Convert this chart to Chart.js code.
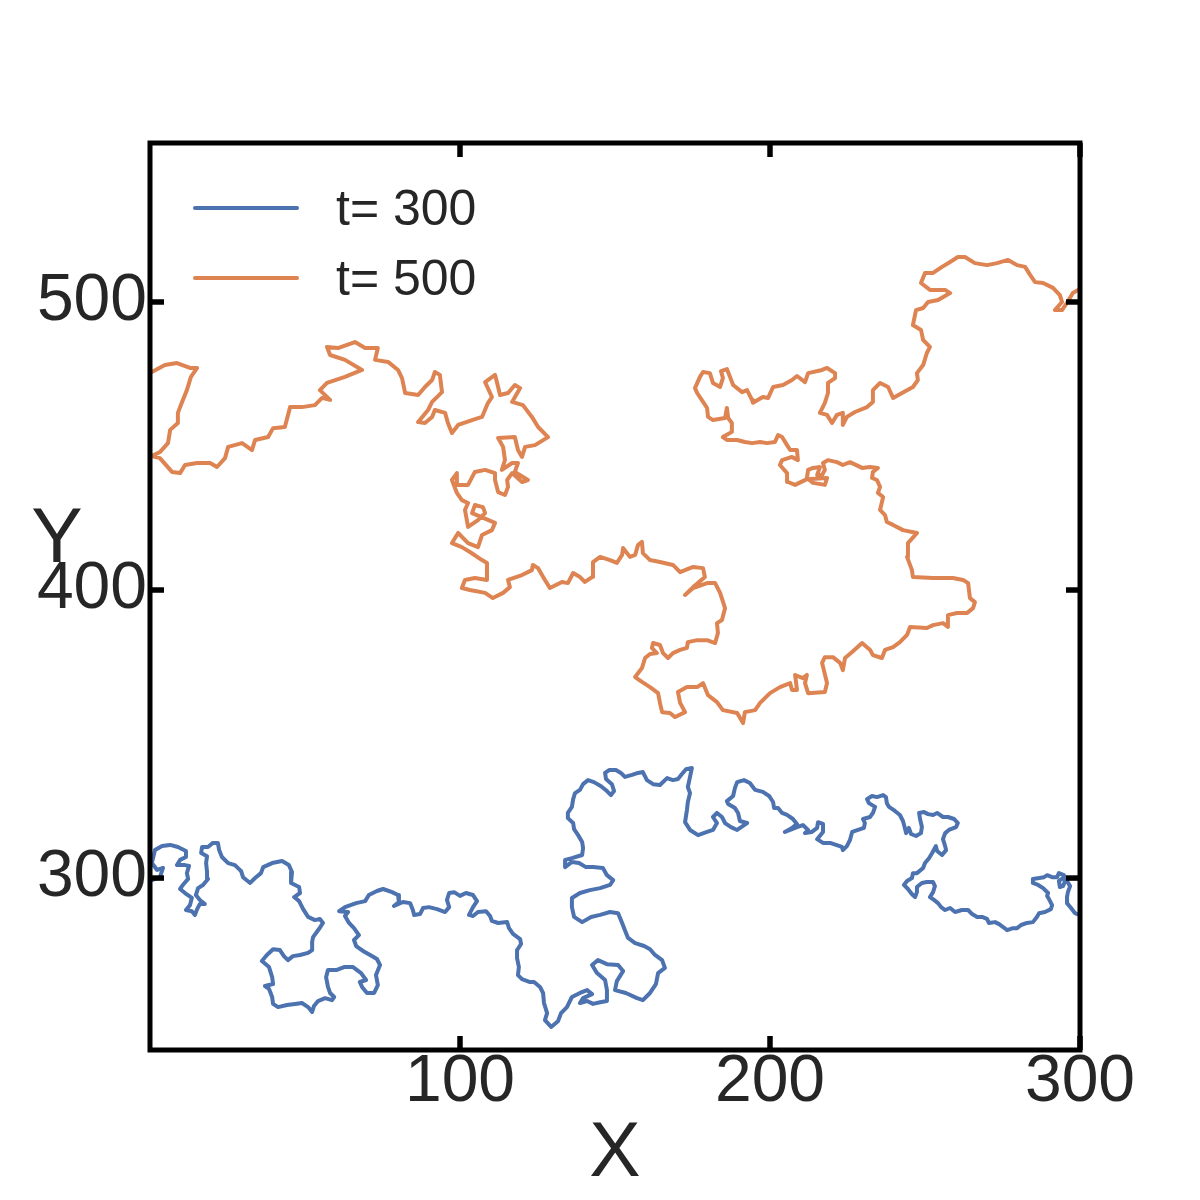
<!DOCTYPE html>
<html>
<head>
<meta charset="utf-8">
<script src="https://cdn.jsdelivr.net/npm/chart.js@4.4.1/dist/chart.umd.min.js"></script>
<style>
  html, body { margin: 0; padding: 0; background: #fff; }
  #wrap { width: 1200px; height: 1200px; }
</style>
</head>
<body>
<div id="wrap"><canvas id="chart" width="1200" height="1200"></canvas></div>
<script>
// labels and ticks
const seriesLabels = ['t= 300', 't= 500'];
const seriesColors = ['#4c72b0', '#dd8452'];
const xTicks = [100, 200, 300];
const yTicks = [300, 400, 500];
const xMin = 0, xMax = 300;
const yMin = 240.3, yMax = 555.2;

// interface at t=300
const t300X = [
  0.6,3.2,4.2,2.3,0.6,1.6,3.9,6.5,9.0,11.6,
  11.6,9.7,8.7,11.3,12.6,11.9,12.3,10.6,9.7,11.3,
  13.5,12.9,11.6,13.5,14.5,15.2,16.1,17.7,16.1,14.8,
  15.5,17.1,18.7,18.4,18.1,18.4,16.5,16.8,18.7,20.3,
  21.9,22.3,23.2,25.2,27.4,29.4,30.0,32.3,33.9,35.8,
  36.5,39.4,42.6,44.8,45.8,45.5,48.1,48.4,46.5,48.1,
  49.4,51.0,53.2,54.8,55.8,54.5,52.6,52.3,52.3,51.0,
  48.4,46.1,44.5,43.2,41.9,39.7,37.7,36.1,38.4,39.4,
  39.7,37.1,38.4,39.4,39.7,41.3,44.2,46.8,49.0,51.0,
  52.3,52.9,54.2,56.5,58.7,59.4,58.1,57.4,56.8,57.4,
  60.3,62.6,65.5,68.1,69.7,67.7,68.4,70.0,72.3,73.5,
  72.9,74.2,73.2,71.0,68.7,66.5,65.8,67.4,65.8,64.2,
  62.9,63.9,61.0,62.9,66.5,69.4,70.6,73.2,75.2,78.1,
  80.0,80.3,78.7,81.6,83.9,84.8,85.2,87.1,88.1,90.0,
  92.6,95.2,96.5,95.8,96.5,98.1,100.0,101.9,104.2,105.5,
  104.2,102.9,104.2,105.8,108.4,109.7,110.3,112.3,115.2,115.8,
  117.1,119.4,119.7,118.4,118.4,119.0,118.7,120.0,122.6,123.9,
  125.8,126.8,127.1,128.1,127.4,129.4,131.6,132.6,134.5,136.1,
  138.7,141.0,142.6,139.7,138.7,141.0,142.9,145.2,147.4,147.4,
  146.8,144.2,142.6,144.5,147.4,151.0,152.6,150.6,150.0,153.5,
  157.1,159.0,161.3,163.2,163.9,166.1,165.2,162.9,161.3,159.4,
  156.5,154.2,153.2,152.3,151.0,148.4,145.2,142.3,139.4,136.8,
  136.1,136.1,138.7,141.9,145.2,148.4,149.4,147.4,146.1,142.9,
  140.6,138.4,136.1,133.9,133.9,136.1,139.4,139.7,139.4,138.1,
  136.8,136.5,134.8,134.8,136.1,136.5,137.1,138.7,139.7,141.3,
  143.2,145.5,147.4,148.7,149.7,149.0,147.1,146.8,148.1,150.3,
  151.9,153.2,155.5,157.4,159.0,160.3,162.3,164.5,166.8,168.7,
  170.3,171.6,172.9,174.8,174.2,173.5,174.2,173.5,173.2,172.6,
  174.2,176.8,179.7,181.6,182.9,181.6,182.9,184.5,185.5,187.4,
  189.4,191.3,192.6,190.3,189.7,188.7,186.5,186.1,188.1,188.7,
  189.4,191.6,193.5,195.2,197.7,199.7,201.0,201.3,202.6,203.9,
  205.5,207.4,208.7,207.1,204.8,206.5,208.7,210.6,212.3,211.3,
  213.5,215.2,215.5,217.1,217.1,215.2,217.1,219.4,221.3,223.2,
  223.5,224.8,225.8,226.5,228.4,230.3,230.6,230.0,232.3,233.2,
  233.9,231.9,231.3,232.9,234.5,236.5,237.4,237.7,238.4,240.3,
  241.9,242.9,243.5,243.9,244.8,245.5,247.1,248.7,249.0,248.4,
  248.1,249.7,251.0,252.6,253.9,255.8,257.4,259.4,260.6,260.0,
  257.7,256.5,255.8,256.5,256.8,255.5,253.9,253.5,252.3,251.3,
  250.0,249.4,247.4,246.1,245.8,244.2,243.2,244.5,245.8,246.8,
  247.4,247.4,249.0,250.6,252.6,253.2,252.6,251.6,252.9,254.2,
  255.2,256.5,258.1,259.7,261.9,263.9,265.2,266.8,268.4,270.0,
  270.6,272.6,273.9,275.2,276.5,278.4,279.7,281.0,282.9,284.8,
  286.1,286.8,288.7,290.6,291.0,290.0,289.4,289.7,288.1,286.5,
  284.8,284.8,286.8,288.4,289.4,291.0,292.6,293.2,294.8,295.5,
  294.5,293.5,293.2,294.5,295.8,296.8,296.1,295.8,295.8,297.1,
  298.4,299.0
];
const t300Y = [
  299.3,300.3,303.5,302.8,305.2,309.7,311.1,311.5,310.8,309.4,
  307.3,306.3,304.5,304.5,304.2,301.7,299.7,297.6,296.2,294.8,
  293.1,290.6,288.9,288.5,287.2,289.2,291.0,291.0,292.4,294.1,
  296.5,297.6,299.7,302.1,305.2,307.6,308.7,310.8,310.8,312.2,
  312.2,309.7,307.3,305.2,304.5,302.4,300.3,298.3,300.0,301.7,
  303.8,305.2,305.9,304.5,302.1,298.3,296.9,294.8,293.4,292.0,
  289.2,286.5,285.4,285.8,284.4,282.3,279.5,277.8,275.0,274.0,
  273.3,272.9,271.5,272.9,275.0,275.3,273.3,271.2,269.1,265.6,
  263.2,262.5,261.5,258.7,256.3,255.2,255.9,256.3,256.6,255.2,
  253.5,255.6,257.3,258.3,257.6,258.7,260.1,262.2,265.6,268.1,
  268.1,269.1,269.1,267.0,264.6,263.9,262.2,260.1,260.1,262.8,
  266.3,269.8,271.9,273.3,274.7,276.4,278.5,280.2,282.6,284.4,
  286.8,288.2,288.5,289.9,291.3,292.0,294.1,295.5,296.2,295.1,
  294.1,291.7,290.3,291.7,291.3,288.9,287.2,287.5,289.6,289.9,
  289.2,288.2,289.9,292.4,294.8,295.1,293.8,294.8,294.1,292.0,
  289.9,287.2,286.8,288.2,288.5,286.8,285.1,284.4,284.7,282.6,
  280.6,278.8,277.1,275.0,272.2,269.1,266.3,264.9,263.9,263.9,
  262.2,260.1,256.6,253.1,250.7,248.3,250.3,253.1,255.2,258.7,
  260.1,261.1,259.7,258.3,256.6,257.3,256.3,256.9,257.3,261.1,
  264.6,267.0,269.8,271.5,270.1,269.8,267.7,264.2,261.1,260.1,
  258.3,257.6,260.1,263.2,267.0,268.8,271.5,273.3,275.3,276.4,
  277.4,279.2,281.9,284.4,287.8,288.2,287.2,286.5,284.7,286.5,
  289.9,293.1,294.8,295.8,296.5,297.6,299.3,301.0,303.5,303.8,
  303.8,305.2,305.6,303.8,306.3,306.9,308.0,310.4,312.5,314.9,
  317.0,319.1,320.8,322.6,324.7,327.4,329.5,330.6,332.6,334.0,
  333.3,331.9,330.2,328.8,330.2,332.6,334.4,336.5,337.5,337.5,
  336.5,335.1,335.8,336.5,336.8,334.0,332.6,332.3,334.7,334.0,
  334.4,336.1,337.8,338.2,335.1,331.6,329.5,326.4,323.6,319.4,
  316.7,314.9,316.0,316.7,319.1,321.2,322.6,321.2,319.1,317.7,
  316.7,318.1,319.1,319.8,322.6,324.3,325.7,326.7,328.5,331.3,
  333.3,334.0,333.0,330.6,329.9,328.5,326.4,324.3,324.3,322.6,
  321.9,320.5,318.8,317.4,316.0,316.7,317.7,318.4,316.7,315.6,
  316.0,317.4,319.4,318.8,316.0,313.5,312.2,312.2,311.5,310.8,
  309.7,311.1,313.2,316.0,316.7,317.4,319.1,320.5,321.2,322.6,
  324.7,326.0,327.4,328.5,328.1,328.8,328.1,326.0,324.7,323.3,
  321.9,319.8,317.4,315.6,317.4,315.3,314.6,315.6,317.7,320.5,
  322.6,322.9,322.2,321.9,322.6,321.2,321.2,320.5,319.1,317.7,
  316.7,315.6,313.5,311.1,309.7,308.0,309.4,311.1,308.7,306.9,
  305.2,303.5,301.7,301.7,300.0,299.0,297.6,296.2,294.4,293.4,
  295.1,296.9,298.3,298.6,298.6,297.2,295.1,293.4,292.4,291.3,
  289.9,288.9,289.6,288.2,288.9,288.9,287.5,286.5,286.5,285.8,
  284.4,284.7,284.0,283.0,281.9,282.6,282.6,283.7,284.4,284.7,
  286.5,287.8,288.2,289.2,290.6,292.7,293.8,294.8,296.5,297.6,
  298.3,299.7,300.0,300.3,301.0,300.3,300.3,301.7,301.0,299.7,
  297.2,296.9,299.0,300.0,299.0,297.2,295.1,293.4,291.3,289.6,
  287.8,287.5
];

// interface at t=500
const t500X = [
  0.6,4.8,8.7,12.9,15.2,13.2,11.9,10.6,9.0,9.0,
  6.5,5.8,3.2,0.6,3.2,7.1,9.7,11.3,15.2,19.4,
  21.6,24.2,25.2,29.7,32.9,33.9,38.1,39.7,43.5,45.2,
  49.0,53.2,55.5,58.1,54.8,57.1,62.9,68.4,62.9,58.1,
  57.1,60.6,66.1,69.4,73.5,72.6,76.8,80.0,81.3,82.3,
  86.5,88.7,91.0,91.9,93.5,94.2,91.0,89.7,86.5,88.7,
  91.0,91.9,95.2,96.1,97.4,99.4,103.9,107.1,109.0,110.3,
  108.1,111.3,112.3,112.9,115.5,117.7,119.4,116.8,120.3,123.2,
  125.2,128.4,124.2,121.0,120.0,118.7,117.7,112.3,113.9,114.5,
  113.5,116.8,118.7,117.7,121.9,120.0,116.8,115.2,115.5,114.5,
  112.3,111.3,111.3,108.1,104.8,102.6,99.0,99.0,97.4,99.0,
  100.6,102.6,101.6,102.6,105.8,108.1,107.4,104.8,103.9,111.3,
  110.3,107.1,105.8,102.6,99.4,97.4,100.6,103.2,107.1,108.7,
  108.7,104.8,101.6,100.6,103.2,108.1,110.6,113.9,116.1,115.5,
  120.0,123.2,123.5,125.2,127.4,129.0,132.9,134.8,136.5,138.7,
  140.3,142.6,142.9,145.2,148.4,150.6,152.3,152.6,154.8,156.5,
  157.4,158.7,159.0,161.3,164.5,168.7,171.0,175.2,178.4,179.0,
  175.2,172.6,175.2,179.7,182.3,183.9,185.5,184.5,182.9,183.2,
  182.3,179.7,176.5,173.5,173.2,171.0,168.7,167.1,165.5,164.5,
  162.3,161.9,163.5,161.3,159.7,158.7,156.5,158.7,161.3,163.9,
  164.5,165.2,167.7,169.4,172.6,171.0,170.3,173.2,176.5,178.4,
  180.0,182.9,184.8,189.4,191.3,191.9,195.2,196.8,200.0,203.2,
  206.5,207.1,208.7,208.1,210.6,211.9,211.3,212.3,217.7,218.4,
  216.8,217.7,220.3,222.6,223.5,224.2,226.5,229.7,232.3,233.2,
  236.1,237.1,239.7,241.9,244.2,245.2,250.6,252.6,255.8,257.4,
  257.4,260.3,263.5,265.5,266.1,264.5,263.9,262.3,259.0,252.6,
  246.1,245.8,244.2,244.5,247.4,242.9,239.7,237.7,237.1,235.5,
  236.5,234.8,235.5,234.5,232.9,233.2,234.8,232.3,229.7,225.8,
  223.5,221.6,218.7,217.1,217.7,216.8,215.2,216.1,213.9,212.3,
  211.9,213.9,217.7,218.4,211.9,208.1,205.8,205.5,203.2,
  203.9,207.1,209.0,208.7,206.5,205.5,203.9,202.6,201.6,199.0,
  196.8,194.2,191.9,189.4,186.1,184.8,187.7,187.7,186.5,186.1,
  185.5,181.6,180.0,179.7,178.4,176.5,175.8,177.4,178.4,180.6,
  181.6,183.9,184.8,184.2,186.1,187.1,188.1,191.0,192.6,194.2,
  194.5,197.7,199.4,201.0,204.2,207.1,208.7,211.3,212.3,216.8,
  218.4,221.0,221.0,218.7,218.7,217.7,216.1,218.4,220.0,221.6,
  223.5,223.5,224.8,227.4,231.3,233.2,233.2,235.5,238.1,239.7,
  242.6,246.1,247.7,247.4,249.4,250.6,251.6,249.4,248.7,246.1,
  247.1,249.4,251.0,254.2,258.1,256.5,251.6,248.7,250.0,252.6,
  255.5,258.1,260.6,262.9,266.1,270.0,273.2,276.8,279.7,282.3,
  283.9,285.5,288.1,291.3,293.5,294.2,291.9,294.2,295.8,297.7,
  299.4
];
const t500Y = [
  475.7,478.1,478.8,477.1,477.1,474.0,469.4,466.0,461.5,458.0,
  455.6,451.0,447.9,446.5,445.8,441.0,440.6,443.4,444.1,444.1,
  442.7,445.8,449.7,451.0,448.6,452.1,453.1,456.2,456.6,463.5,
  463.5,464.2,466.7,466.0,469.4,471.9,474.0,476.4,479.9,481.6,
  484.4,484.0,486.1,484.0,484.0,479.9,479.2,476.4,473.6,468.4,
  467.7,470.5,472.9,475.7,474.7,468.7,465.3,462.5,458.3,458.0,
  460.1,462.5,461.5,458.0,454.5,457.3,459.0,460.1,464.9,467.0,
  472.2,474.7,470.5,467.7,468.4,471.2,470.1,465.3,464.2,460.1,
  456.6,453.1,450.3,449.7,446.2,448.6,453.1,452.8,449.7,445.1,
  441.7,444.1,444.1,441.0,438.2,437.5,440.6,438.2,435.8,433.0,
  434.0,438.2,440.6,441.7,441.0,436.5,436.5,440.6,438.2,433.7,
  431.2,430.2,427.8,421.9,424.3,426.7,428.8,429.5,426.7,423.3,
  420.8,419.1,414.9,416.3,419.8,416.3,414.9,413.2,410.4,409.4,
  403.5,404.2,403.5,400.7,400.0,399.0,397.2,399.0,401.0,403.5,
  405.2,406.9,408.7,407.6,403.5,400.7,402.8,402.4,405.9,404.5,
  402.8,404.5,409.7,411.5,410.4,409.4,412.2,414.6,411.5,412.2,
  415.6,416.7,412.8,410.4,409.7,408.7,406.2,408.0,407.6,404.5,
  401.0,398.3,400.7,402.4,402.4,399.0,393.7,389.6,388.5,385.1,
  381.6,382.6,382.6,381.9,379.9,379.2,378.1,376.4,378.1,380.9,
  381.6,379.9,378.1,377.8,376.4,372.9,369.8,368.1,366.3,364.2,
  360.8,357.6,357.3,355.9,357.6,360.8,364.6,366.3,366.3,367.7,
  363.5,361.1,358.3,357.3,353.8,357.6,358.3,360.8,364.2,366.3,
  367.7,365.3,365.3,370.5,369.4,370.5,367.7,364.2,364.6,367.7,
  374.7,376.7,376.7,374.7,372.2,376.4,378.5,381.6,379.2,377.4,
  376.4,379.2,380.2,381.9,384.4,387.2,386.8,387.8,388.5,387.2,
  391.3,392.0,392.0,393.7,395.8,397.2,402.4,403.5,404.2,404.2,
  404.5,406.9,411.5,416.3,419.8,420.8,422.6,423.6,426.0,427.8,
  432.3,433.7,435.8,438.2,438.9,441.0,442.4,442.7,442.4,444.4,
  443.4,444.4,445.1,444.1,441.7,439.9,439.9,442.7,442.4,441.7,
  438.9,437.2,436.5,438.9,438.5,436.5,437.5,440.6,443.4,
  445.1,446.2,445.1,448.6,448.6,450.3,453.1,453.8,451.4,451.0,
  451.4,451.0,451.4,452.1,452.1,453.1,454.9,458.0,459.7,463.2,
  459.7,459.0,460.1,463.2,465.3,468.4,470.1,474.0,475.7,475.3,
  471.9,470.5,473.6,476.0,476.7,474.0,471.2,468.7,469.4,466.0,
  465.0,467.0,466.7,470.5,471.2,472.9,474.3,472.2,475.3,476.4,
  477.1,475.3,473.6,471.9,468.4,465.0,461.5,460.8,458.0,460.8,
  461.5,457.3,460.1,461.8,463.5,465.3,469.4,471.9,470.5,466.7,
  468.4,470.5,472.9,475.3,478.1,482.3,484.4,486.8,490.3,492.0,
  497.2,497.9,500.0,500.7,503.1,504.2,504.2,506.6,510.1,510.1,
  512.2,513.9,515.6,515.6,513.5,512.8,513.5,514.6,512.8,512.2,
  509.4,506.9,506.6,504.9,502.4,500.0,497.2,497.2,499.7,503.1,
  504.2
];

function toPoints(xs, ys) {
  const pts = [];
  const n = Math.min(xs.length, ys.length);
  for (let i = 0; i < n; i++) pts.push({ x: xs[i], y: ys[i] });
  return pts;
}

const FONT = '"Liberation Sans", Arial, sans-serif';
const TEXT = '#262626';

// spines, inward ticks, legend and the horizontal Y label
const framePlugin = {
  id: 'frame',
  afterDraw(chart) {
    const ctx = chart.ctx;
    const a = chart.chartArea;
    const sx = chart.scales.x;
    const sy = chart.scales.y;
    const len = 14;
    ctx.save();
    ctx.strokeStyle = '#000';
    ctx.lineCap = 'butt';
    ctx.lineWidth = 5.5;
    const seg = (x1, y1, x2, y2) => {
      ctx.beginPath();
      ctx.moveTo(x1, y1);
      ctx.lineTo(x2, y2);
      ctx.stroke();
    };
    xTicks.forEach(v => {
      const p = sx.getPixelForValue(v);
      seg(p, a.bottom, p, a.bottom - len);
      seg(p, a.top, p, a.top + len);
    });
    yTicks.forEach(v => {
      const p = sy.getPixelForValue(v);
      seg(a.left, p, a.left + len, p);
      seg(a.right, p, a.right - len, p);
    });
    ctx.lineWidth = 5;
    ctx.lineJoin = 'miter';
    ctx.strokeRect(a.left, a.top, a.right - a.left, a.bottom - a.top);

    // legend in the upper left corner
    ctx.lineCap = 'round';
    ctx.lineWidth = 4;
    ctx.font = '50px ' + FONT;
    ctx.fillStyle = TEXT;
    ctx.textAlign = 'left';
    ctx.textBaseline = 'alphabetic';
    chart.data.datasets.forEach((ds, i) => {
      const y = a.top + 65 + i * 70;
      ctx.strokeStyle = ds.borderColor;
      seg(a.left + 45, y, a.left + 147, y);
      ctx.fillText(ds.label, a.left + 186, y + 17);
    });

    // y axis title, not rotated
    ctx.font = '77px ' + FONT;
    ctx.textAlign = 'center';
    ctx.fillText('Y', 57, 562);
    ctx.restore();
  }
};

function lineSet(label, color, xs, ys) {
  return {
    label: label,
    data: toPoints(xs, ys),
    showLine: true,
    borderColor: color,
    borderWidth: 4,
    borderJoinStyle: 'round',
    borderCapStyle: 'round',
    pointRadius: 0,
    fill: false,
    tension: 0
  };
}

const ctx = document.getElementById('chart').getContext('2d');
const chart = new Chart(ctx, {
  type: 'scatter',
  data: {
    datasets: [
      lineSet(seriesLabels[0], seriesColors[0], t300X, t300Y),
      lineSet(seriesLabels[1], seriesColors[1], t500X, t500Y)
    ]
  },
  options: {
    responsive: false,
    animation: false,
    devicePixelRatio: 1,
    layout: { padding: { top: 143, right: 120, left: 0, bottom: 0 } },
    plugins: {
      legend: { display: false },
      tooltip: { enabled: false }
    },
    scales: {
      x: {
        type: 'linear',
        min: xMin,
        max: xMax,
        grid: { display: false, drawTicks: false },
        border: { display: false },
        afterBuildTicks: (scale) => { scale.ticks = xTicks.map(v => ({ value: v })); },
        afterFit: (scale) => { scale.height = 150; },
        ticks: {
          autoSkip: false,
          maxRotation: 0,
          padding: 0,
          color: TEXT,
          font: { family: FONT, size: 66, lineHeight: 1 }
        },
        title: {
          display: true,
          text: 'X',
          color: TEXT,
          font: { family: FONT, size: 77, lineHeight: 1 },
          padding: { top: 0, bottom: 7 }
        }
      },
      y: {
        type: 'linear',
        min: yMin,
        max: yMax,
        grid: { display: false, drawTicks: false },
        border: { display: false },
        afterBuildTicks: (scale) => { scale.ticks = yTicks.map(v => ({ value: v })); },
        afterFit: (scale) => { scale.width = 150; },
        ticks: {
          autoSkip: false,
          padding: 3,
          color: TEXT,
          font: { family: FONT, size: 66, lineHeight: 1 }
        }
      }
    }
  },
  plugins: [framePlugin]
});
</script>
</body>
</html>
